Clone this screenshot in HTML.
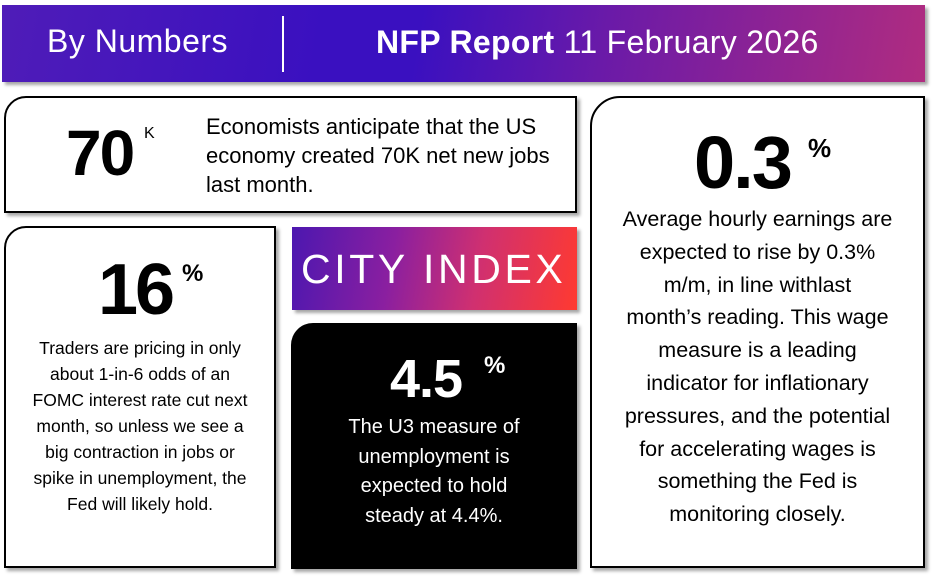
<!DOCTYPE html>
<html><head><meta charset="utf-8"><style>
*{margin:0;padding:0;box-sizing:border-box}
body{width:939px;height:584px;background:#fff;position:relative;overflow:hidden;font-family:"Liberation Sans",sans-serif;color:#000}
.a{position:absolute}
.box{position:absolute;background:#fff;border:2px solid #000;box-shadow:3px 3px 3px rgba(0,0,0,.35)}
.b{font-weight:bold}
</style></head><body>
<div class="a" style="left:2px;top:5px;width:923px;height:77px;background:linear-gradient(100deg,#4f1cb8 0%,#3a10c0 35%,#3a10c0 45%,#6a1aa8 65%,#b02c80 100%);box-shadow:3px 3px 3px rgba(0,0,0,.35)"></div>
<div class="a" style="left:282px;top:16px;width:2px;height:56px;background:#fff"></div>
<div class="a" style="left:47px;top:23px;color:#fff;font-size:32px;letter-spacing:0.5px;white-space:nowrap">By Numbers</div>
<div class="a" style="left:376px;top:24px;color:#fff;font-size:32px;white-space:nowrap;letter-spacing:0.3px"><b>NFP Report</b> 11 February 2026</div>

<div class="box" style="left:4px;top:96px;width:573px;height:117px;border-top-left-radius:22px"></div>
<div class="a b" style="left:66px;top:116px;font-size:64px;letter-spacing:-2px">70</div>
<div class="a" style="left:144px;top:125px;font-size:16px">K</div>
<div class="a" style="left:206px;top:112px;font-size:22px;line-height:29px;white-space:nowrap">Economists anticipate that the US<br>economy created 70K net new jobs<br>last month.</div>

<div class="box" style="left:590px;top:96px;width:335px;height:472px;border-top-left-radius:30px"></div>
<div class="a b" style="left:694px;top:120px;font-size:74px;letter-spacing:-2px">0.3</div>
<div class="a b" style="left:808px;top:133px;font-size:26px">%</div>
<div class="a" style="left:590px;top:203px;width:335px;text-align:center;font-size:21.5px;line-height:32.8px">Average hourly earnings are<br>expected to rise by 0.3%<br>m/m, in line withlast<br>month’s reading. This wage<br>measure is a leading<br>indicator for inflationary<br>pressures, and the potential<br>for accelerating wages is<br>something the Fed is<br>monitoring closely.</div>

<div class="box" style="left:4px;top:226px;width:272px;height:342px;border-top-left-radius:22px"></div>
<div class="a b" style="left:98px;top:249px;font-size:72px;letter-spacing:-3px">16</div>
<div class="a b" style="left:182px;top:260px;font-size:24px">%</div>
<div class="a" style="left:4px;top:335px;width:272px;text-align:center;font-size:17.5px;line-height:26px">Traders are pricing in only<br>about 1-in-6 odds of an<br>FOMC interest rate cut next<br>month, so unless we see a<br>big contraction in jobs or<br>spike in unemployment, the<br>Fed will likely hold.</div>

<div class="a" style="left:292px;top:227px;width:285px;height:83px;background:linear-gradient(100deg,#4c17b0 0%,#8a1fa0 35%,#d03070 65%,#ff3a30 100%);box-shadow:3px 3px 3px rgba(0,0,0,.35)"></div>
<div class="a" style="left:301px;top:246px;color:#fff;font-size:41px;font-weight:300;letter-spacing:3.6px;white-space:nowrap">CITY INDEX</div>

<div class="a" style="left:291px;top:323px;width:286px;height:246px;background:#000;border-top-left-radius:22px;box-shadow:3px 3px 3px rgba(0,0,0,.35)"></div>
<div class="a b" style="left:390px;top:348px;color:#fff;font-size:54px;letter-spacing:-1px">4.5</div>
<div class="a b" style="left:484px;top:352px;color:#fff;font-size:24px">%</div>
<div class="a" style="left:291px;top:413px;width:286px;text-align:center;color:#fff;font-size:20px;line-height:29.5px">The U3 measure of<br>unemployment is<br>expected to hold<br>steady at 4.4%.</div>
</body></html>
